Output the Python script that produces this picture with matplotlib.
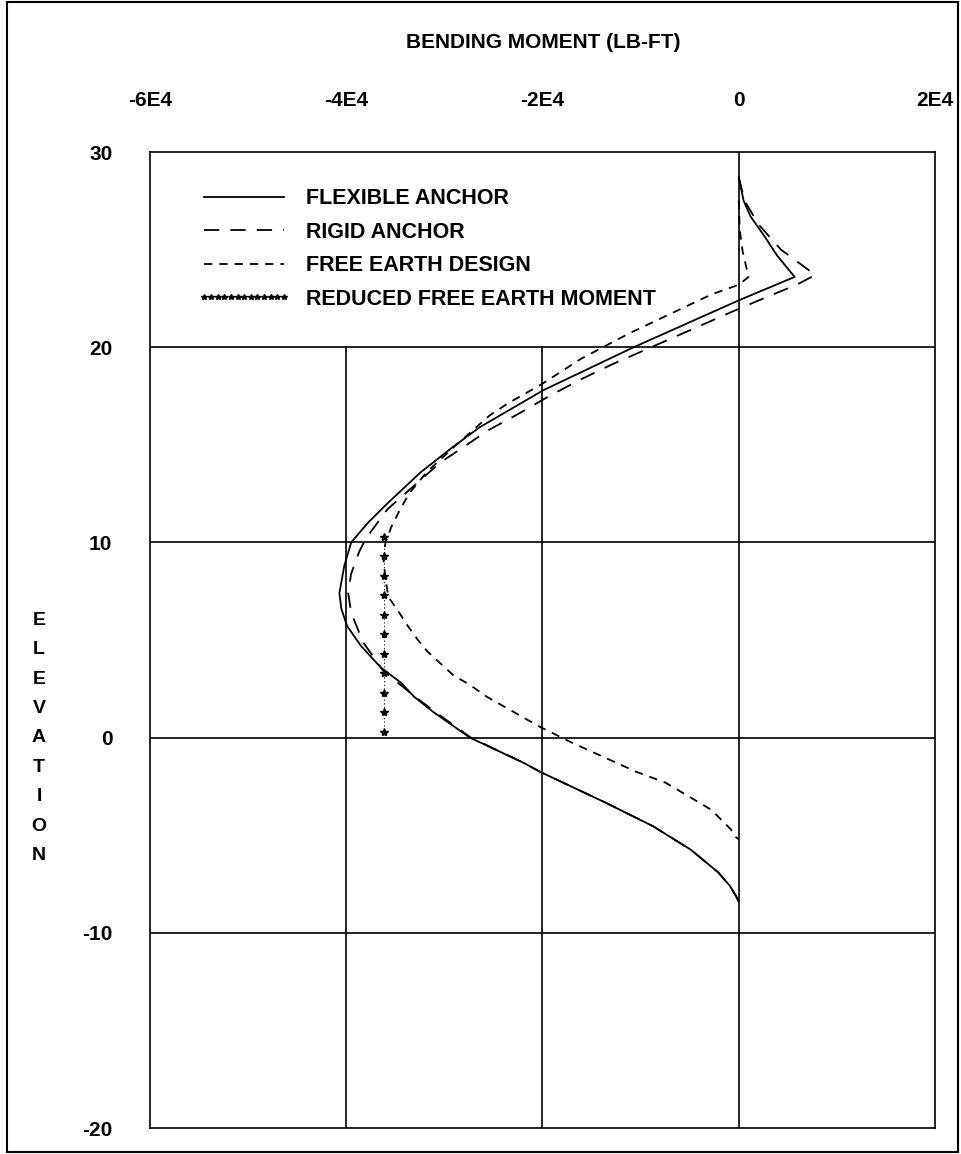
import matplotlib
matplotlib.use("Agg")
import matplotlib.pyplot as plt
from matplotlib.patches import Rectangle

plt.rcParams['font.family'] = ['Liberation Sans', 'DejaVu Sans']
plt.rcParams['font.weight'] = 'bold'
plt.rcParams['axes.unicode_minus'] = False
plt.rcParams['lines.scale_dashes'] = False

# --- data (moment in lb-ft, elevation in ft) ---
flex_elev = [28.7, 27.5, 26.7, 25.7, 24.7, 23.6, 22.4, 20.0, 17.8, 15.9, 14.9,
             13.6, 12.0, 11.0, 10.0, 8.8, 7.4, 6.6, 5.7, 4.7, 3.6, 2.8, 2.1,
             1.3, 0.0, -1.3, -1.74, -3.35, -4.55, -5.74, -6.9, -7.6, -8.1, -8.4]
flex_moment = [0, 500, 1200, 2600, 3900, 5700, 0, -10700, -19900, -26400, -29100,
               -32400, -35800, -37800, -39500, -40200, -40700, -40500, -39900, -38500,
               -36500, -34400, -33100, -31100, -27400, -21900, -20300, -13500, -8700,
               -4900, -2100, -900, -300, 0]

rigid_elev = [28.7, 27.5, 26.3, 25.0, 23.7, 23.2, 22.6, 21.9, 19.1, 18.3, 17.5,
              16.6, 15.7, 15.0, 14.1, 12.9, 11.7, 10.2, 9.5, 8.4, 7.4, 6.4, 4.9,
              3.4, 2.1, 1.3, 0.0, -1.3, -1.74, -3.35, -4.55, -5.74, -6.9, -7.6, -8.1, -8.4]
rigid_moment = [0, 600, 2000, 4300, 7800, 5900, 3000, -300, -13000, -16300, -19300,
                -22400, -25700, -27700, -30400, -33100, -35800, -38000, -38700, -39500,
                -39800, -39500, -38300, -36200, -33000, -30900, -27300, -21900, -20300,
                -13500, -8700, -4900, -2100, -900, -300, 0]

free_elev = [27.5, 26.0, 24.9, 23.6, 23.2, 22.7, 20.7, 19.4, 18.1, 17.1, 16.5,
             14.9, 13.6, 12.5, 11.6, 10.8, 10.0, 9.1, 8.1, 7.2, 6.4, 5.7, 5.0,
             4.4, 3.8, 3.2, 2.7, 2.1, 0.56, -0.26, -1.74, -2.3, -3.1, -3.7, -4.7, -5.1, -5.2]
free_moment = [0, 100, 400, 1000, 0, -2800, -11200, -16100, -20100, -23600, -25400,
               -29000, -31800, -33600, -34600, -35400, -36000, -36200, -36000, -35700,
               -34600, -33700, -32700, -31700, -30400, -29100, -27400, -25700, -20300,
               -17000, -10500, -7500, -4800, -2800, -800, -300, 0]

reduced_elev = [10.3, 9.3, 8.3, 7.3, 6.3, 5.3, 4.3, 3.3, 2.3, 1.3, 0.3]
reduced_moment = [-36200] * len(reduced_elev)

x_ticks = [-60000, -40000, -20000, 0, 20000]
x_tick_labels = ['-6E4', '-4E4', '-2E4', '0', '2E4']
y_ticks = [30, 20, 10, 0, -10, -20]

# --- figure ---
fig = plt.figure(figsize=(9.61, 11.54), dpi=100)
ax = fig.add_axes([150 / 961, 26 / 1154, 785 / 961, 976 / 1154])

ax.set_xlim(-60000, 20000)
ax.set_ylim(-20, 30)

# grid, drawn by hand: the legend area above 20 has no vertical lines left of 0
for yv in [20, 10, 0, -10]:
    ax.axhline(yv, color='black', lw=1.2, zorder=1)
for xv in [-40000, -20000]:
    ax.axvline(xv, ymax=0.8, color='black', lw=1.2, zorder=1)
ax.axvline(0, color='black', lw=1.2, zorder=1)

ax.plot(flex_moment, flex_elev, color='black', lw=1.3, label='FLEXIBLE ANCHOR', zorder=3)
ax.plot(rigid_moment, rigid_elev, color='black', lw=1.3, dashes=(11, 8),
        label='RIGID ANCHOR', zorder=3)
ax.plot(free_moment, free_elev, color='black', lw=1.3, dashes=(6, 5),
        label='FREE EARTH DESIGN', zorder=3)
ax.plot(reduced_moment, reduced_elev, color='black', lw=0.6, ls=':', marker='*',
        ms=6, label='REDUCED FREE EARTH MOMENT', zorder=3)

ax.xaxis.tick_top()
ax.set_xticks(x_ticks)
ax.set_xticklabels(x_tick_labels)
ax.set_yticks(y_ticks)
ax.tick_params(length=0, labelsize=15)
ax.tick_params(axis='x', pad=30)
ax.tick_params(axis='y', pad=27)
for s in ax.spines.values():
    s.set_linewidth(1.2)

leg = ax.legend(loc='upper left', bbox_to_anchor=(0.061, 0.963), frameon=False,
                fontsize=15.5, handlelength=4.3, handletextpad=0.7, labelspacing=0.58,
                borderpad=0, borderaxespad=0, numpoints=13, markerscale=0.7)

fig.text(543 / 961, 1 - 43 / 1154, 'BENDING MOMENT (LB-FT)', ha='center', va='center',
         fontsize=15)
fig.text(39 / 961, 1 - 738 / 1154, 'E\nL\nE\nV\nA\nT\nI\nO\nN', ha='center', va='center',
         fontsize=14, linespacing=1.95)

# outer frame round the whole picture
fig.patches.append(Rectangle((7 / 961, 2 / 1154), 951 / 961, 1150 / 1154,
                             transform=fig.transFigure, fill=False, lw=1.5,
                             edgecolor='black'))

plt.savefig('out.png', dpi=100)
